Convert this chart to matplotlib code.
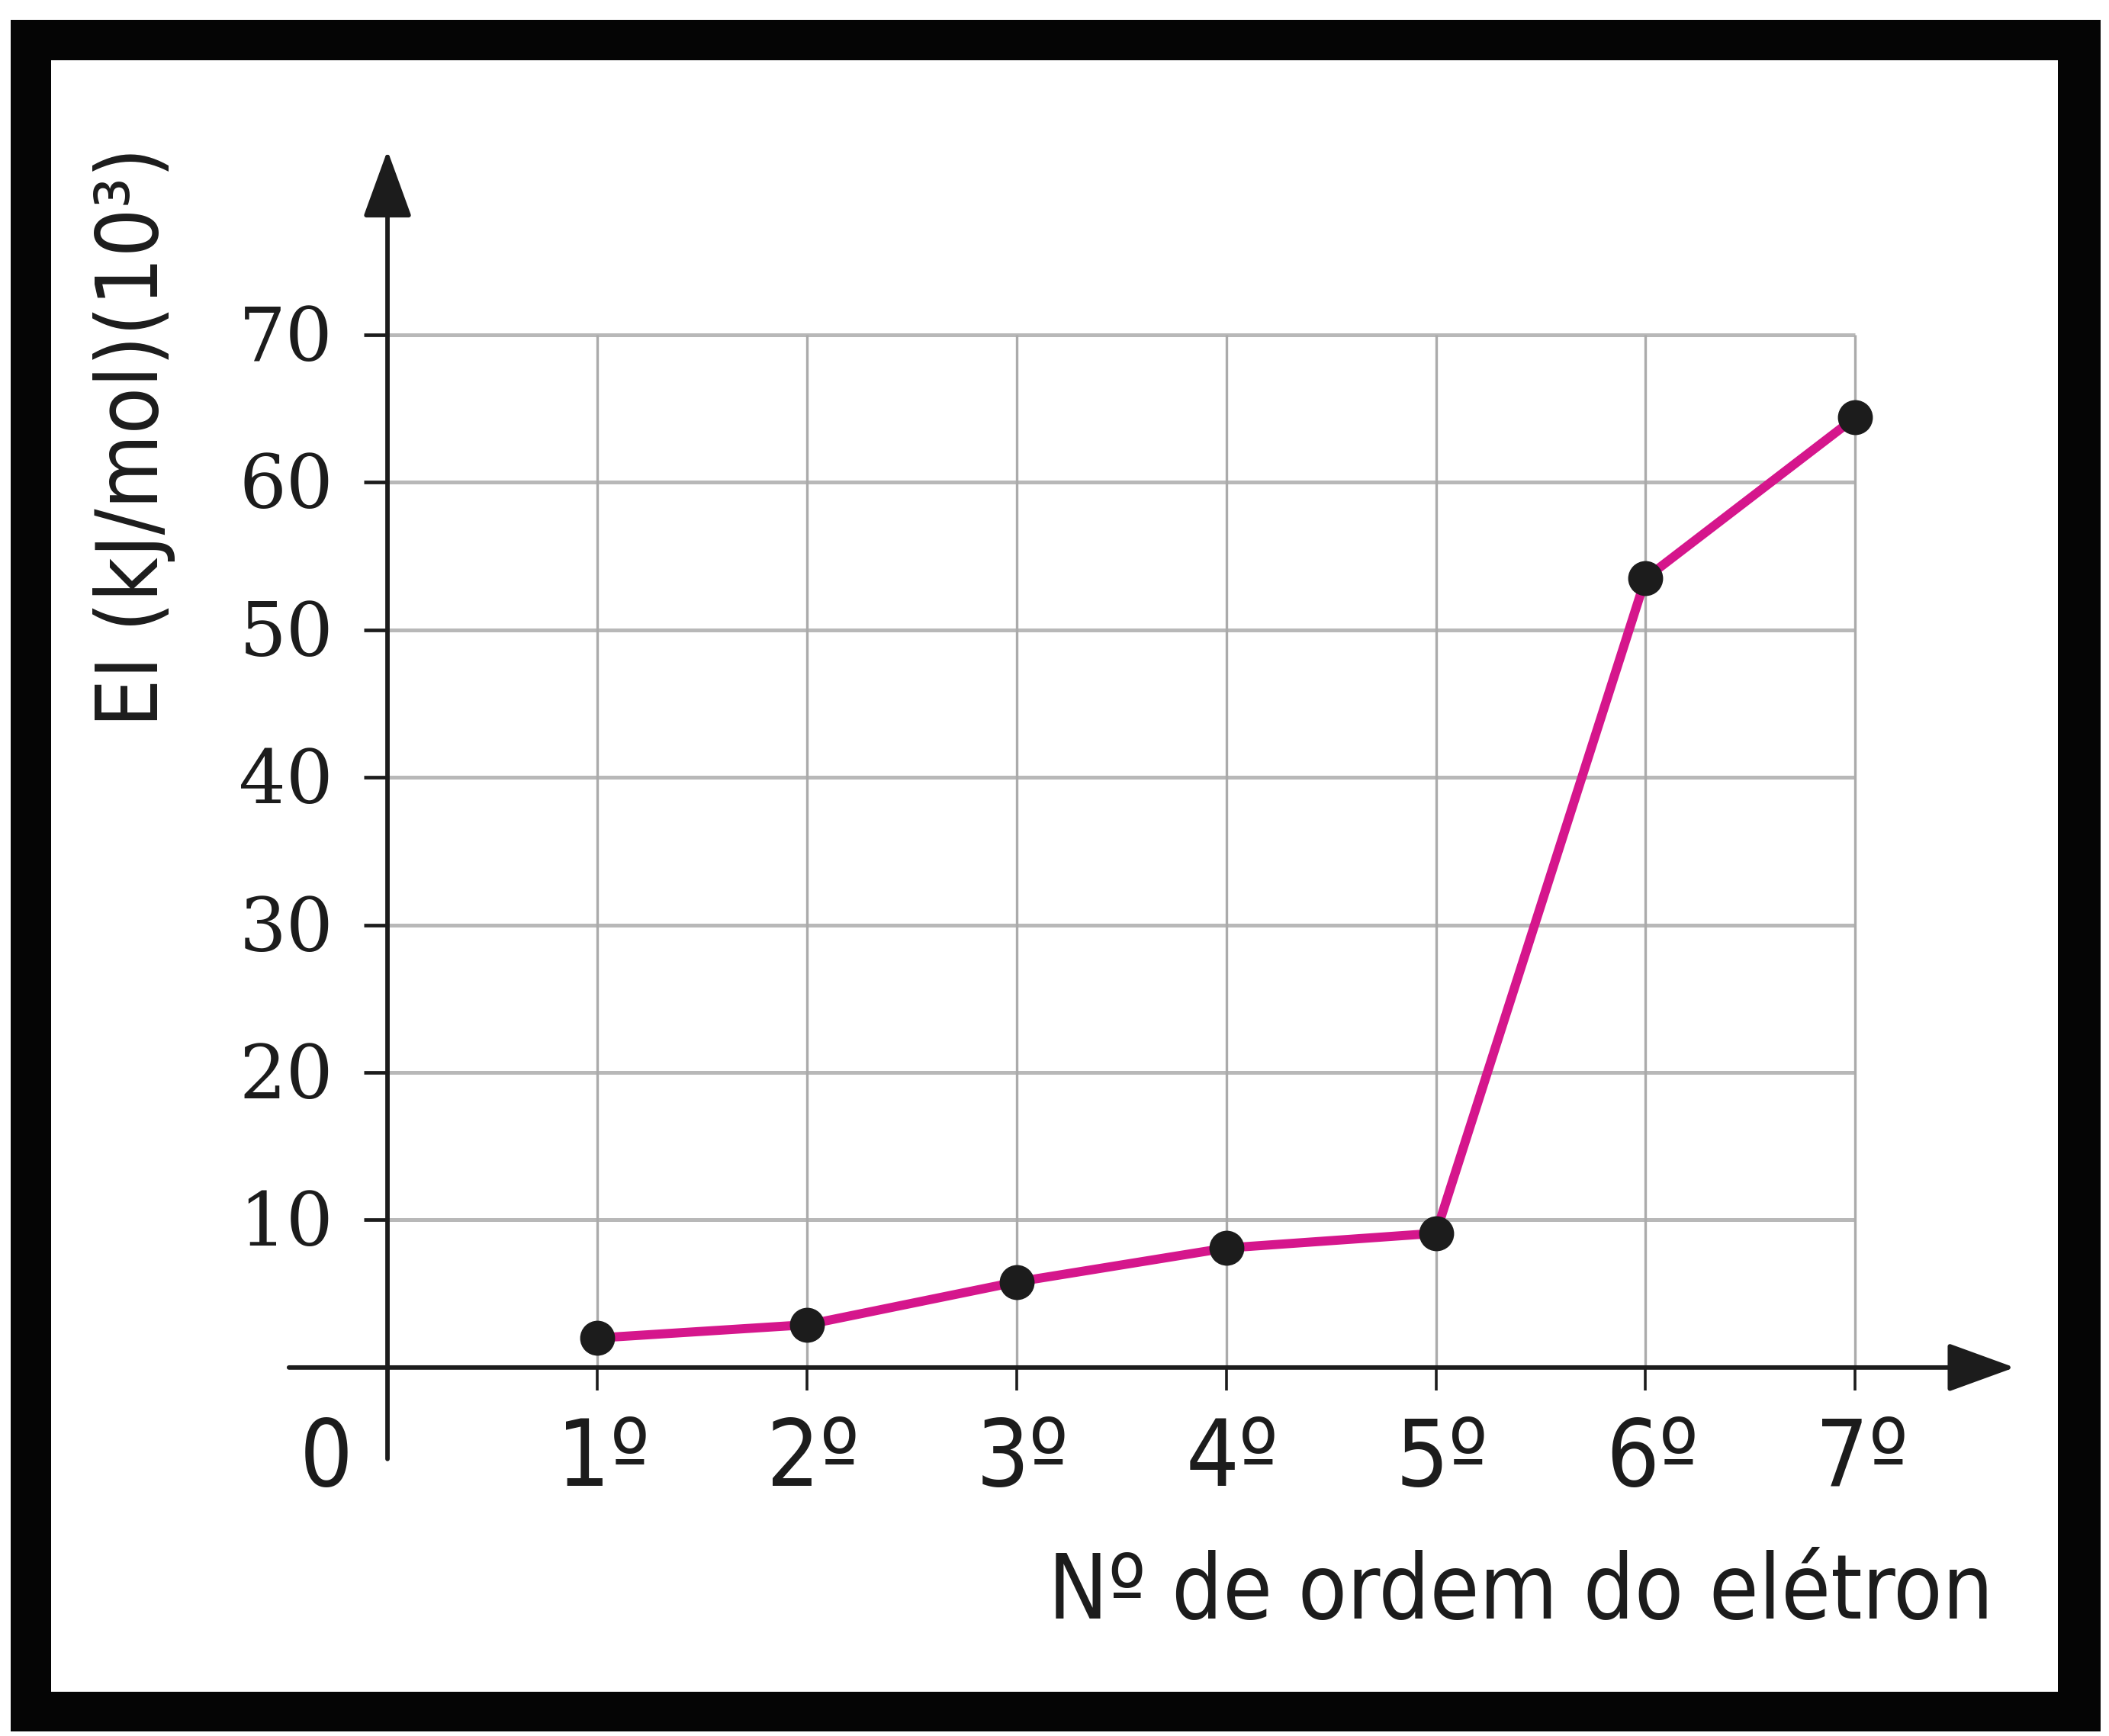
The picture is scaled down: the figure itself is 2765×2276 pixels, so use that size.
import matplotlib
matplotlib.use('Agg')
import matplotlib.pyplot as plt
from matplotlib import font_manager
from matplotlib.patches import Rectangle

# values (EI in kJ/mol x 10^3)
ordem = [1, 2, 3, 4, 5, 6, 7]
ordem_labels = ['1º', '2º', '3º', '4º', '5º', '6º', '7º']
energia = [2.0, 2.9, 5.8, 8.1, 9.1, 53.5, 64.4]
y_ticks = [10, 20, 30, 40, 50, 60, 70]
y_labels = ['10', '20', '30', '40', '50', '60', '70']

W, H = 2765, 2276
DPI = 100
INK = '#1c1c1c'

# a narrow sans if one is around, otherwise Lato
_have = {(f.name, f.stretch) for f in font_manager.fontManager.ttflist}
if ('DejaVu Sans', 'condensed') in _have:
    SANS = dict(family=['DejaVu Sans'], stretch='condensed')
elif any(n == 'Liberation Sans Narrow' for n, s in _have):
    SANS = dict(family=['Liberation Sans Narrow', 'DejaVu Sans'])
else:
    SANS = dict(family=['Lato', 'DejaVu Sans'])


def frame(fig):
    '''black picture frame around the chart, in figure pixels'''
    outer = (14, 26, 2754, 2270)
    inner = (67, 79, 2698, 2218)
    bars = [(outer[0], outer[1], outer[2], inner[1]),
            (outer[0], inner[3], outer[2], outer[3]),
            (outer[0], outer[1], inner[0], outer[3]),
            (inner[2], outer[1], outer[2], outer[3])]
    for x0, y0, x1, y1 in bars:
        fig.patches.append(Rectangle((x0 / W, 1 - y1 / H), (x1 - x0) / W,
                                     (y1 - y0) / H, transform=fig.transFigure,
                                     facecolor='#050505', edgecolor='none'))


def fit_width(fig, t, target_px):
    '''scale a text so that it spans target_px pixels along its line'''
    bb = t.get_window_extent(fig.canvas.get_renderer())
    w = max(bb.width, bb.height) if t.get_rotation() else bb.width
    t.set_fontsize(t.get_fontsize() * target_px / w)


def main():
    fig = plt.figure(figsize=(W / DPI, H / DPI), dpi=DPI)
    fig.patch.set_facecolor('white')
    ax = fig.add_axes([0, 0, 1, 1])
    ax.set_xlim(-1.848, 8.210)
    ax.set_ylim(-24.98, 92.70)
    ax.axis('off')

    # grid
    ax.hlines(y_ticks, 0, max(ordem), colors='#b8b8b8', linewidth=3.6, zorder=1)
    ax.vlines(ordem, 0, max(y_ticks), colors='#ababab', linewidth=2.4, zorder=1)

    # axes with arrow heads
    arr = dict(arrowstyle='-|>,head_length=1.1,head_width=0.4', lw=4.2,
               color=INK, shrinkA=0, shrinkB=0, mutation_scale=50)
    ax.annotate('', xy=(7.76, 0), xytext=(-0.47, 0), arrowprops=arr, zorder=2)
    ax.annotate('', xy=(0, 82.5), xytext=(0, -6.2), arrowprops=arr, zorder=2)

    # tick marks
    ax.hlines(y_ticks, -0.113, 0, colors=INK, linewidth=3.4, zorder=2)
    ax.vlines(ordem, -1.55, 0, colors=INK, linewidth=2.6, zorder=2)

    # the series
    ax.plot(ordem, energia, color='#d5168c', lw=8.6, solid_capstyle='round',
            zorder=3)
    ax.plot(ordem, energia, 'o', color=INK, ms=32, zorder=4)

    # tick labels
    for v, lab in zip(y_ticks, y_labels):
        ax.text(-0.258, v - 1.75, lab, ha='right', va='baseline',
                family='DejaVu Serif', fontsize=70, color=INK)
    for x, lab in zip(ordem, ordem_labels):
        ax.text(x + 0.03, -8.02, lab, ha='center', va='baseline',
                fontsize=88, color=INK, **SANS)
    ax.text(-0.291, -8.02, '0', ha='center', va='baseline', fontsize=88,
            color=INK, **SANS)

    # axis titles, sized to the span they have in the picture
    xt = ax.text(7.657, -17.0, 'Nº de ordem do elétron', ha='right',
                 va='baseline', fontsize=90, color=INK, **SANS)
    yt = ax.text(-1.208, 63.07, 'EI (kJ/mol)(10³)', ha='center', va='center',
                 rotation=90, fontsize=90, color=INK, **SANS)
    fit_width(fig, xt, 1240)
    fit_width(fig, yt, 760)

    frame(fig)
    fig.savefig('out.png', dpi=DPI)


if __name__ == '__main__':
    main()
